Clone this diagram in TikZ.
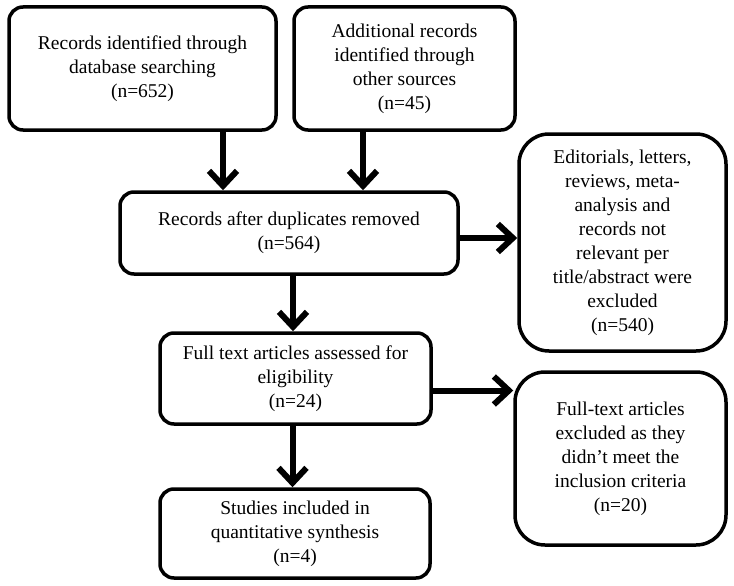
\documentclass[tikz,border=0pt]{standalone}
\usepackage{fontspec}
\setmainfont{Liberation Serif}
\usetikzlibrary{arrows.meta}

\begin{document}
\begin{tikzpicture}[x=1pt, y=-1pt,
	box/.style={draw, line width=3.5pt, rounded corners=14pt, align=center, inner sep=0pt,
		font=\fontsize{19.5}{24}\selectfont},
	bigbox/.style={box, rounded corners=30pt},
	arr/.style={line width=6pt, -{Straight Barb[length=15pt, width=28pt]}}]
	\useasboundingbox (0,0) rectangle (734,586);

	\node[box, minimum width=267pt, minimum height=123pt] (rec) at (142.5,68.5) {Records identified through\\database searching\\(n=652)};
	\node[box, minimum width=221pt, minimum height=123pt] (add) at (404.5,68.5) {Additional records\\identified through\\other sources\\(n=45)};
	\node[box, minimum width=338pt, minimum height=82pt] (dup) at (289,233) {Records after duplicates removed\\(n=564)};
	\node[bigbox, minimum width=207pt, minimum height=217pt] (edit) at (622.5,242.5) {Editorials, letters,\\reviews, meta-\\analysis and\\records not\\relevant per\\title/abstract were\\excluded\\(n=540)};
	\node[box, minimum width=271pt, minimum height=91pt] (full) at (295.5,378.5) {Full text articles assessed for\\eligibility\\(n=24)};
	\node[bigbox, minimum width=211pt, minimum height=173pt] (excl) at (620.5,458.5) {Full-text articles\\excluded as they\\didn’t meet the\\inclusion criteria\\(n=20)};
	\node[box, minimum width=270pt, minimum height=89pt] (incl) at (295,533.5) {Studies included in\\quantitative synthesis\\(n=4)};

	\draw[arr] ([xshift=80.5pt]rec.south) -- ([xshift=80.5pt]rec.south |- dup.north);
	\draw[arr] ([xshift=-41.5pt]add.south) -- ([xshift=-41.5pt]add.south |- dup.north);
	\draw[arr] ([yshift=-5pt]dup.east) -- ([yshift=-5pt]dup.east -| edit.west);
	\draw[arr] ([xshift=4pt]dup.south) -- ([xshift=4pt]dup.south |- full.north);
	\draw[arr] ([yshift=-12pt]full.east) -- ([yshift=-12pt]full.east -| excl.west);
	\draw[arr] ([xshift=-3pt]full.south) -- ([xshift=-3pt]full.south |- incl.north);
\end{tikzpicture}
\end{document}
